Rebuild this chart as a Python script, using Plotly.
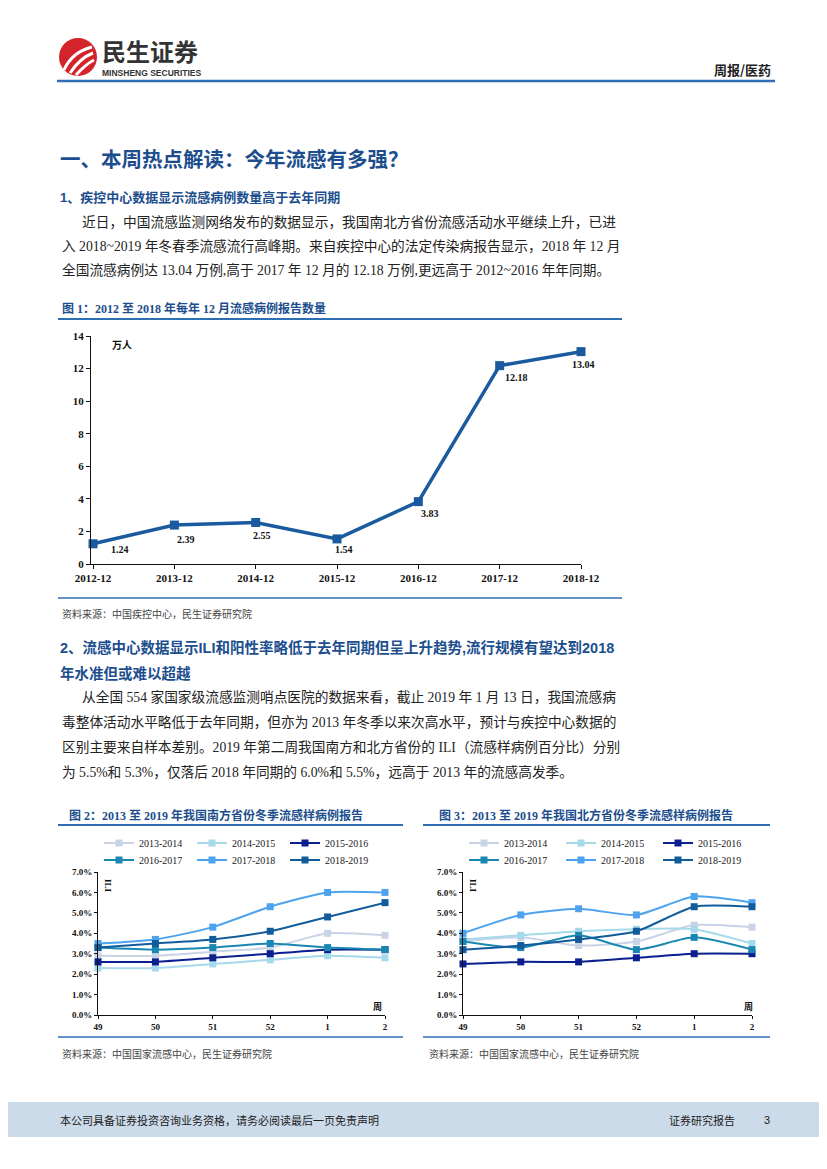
import plotly.graph_objects as go

W, H = 827, 1169
OFF = 8  # browser default body margin offsets the figure by 8px
def px(x): return (x - OFF) / W
def py(y): return 1 - (y - OFF) / H

# ---------------- data ----------------
months = ['2012-12', '2013-12', '2014-12', '2015-12', '2016-12', '2017-12', '2018-12']
cases = [1.24, 2.39, 2.55, 1.54, 3.83, 12.18, 13.04]

weeks = ['49', '50', '51', '52', '1', '2']
seasons = ['2013-2014', '2014-2015', '2015-2016', '2016-2017', '2017-2018', '2018-2019']

south_2013_2014 = [2.9, 2.9, 3.1, 3.3, 4.0, 3.9]
south_2014_2015 = [2.3, 2.3, 2.5, 2.7, 2.9, 2.8]
south_2015_2016 = [2.6, 2.6, 2.8, 3.0, 3.2, 3.2]
south_2016_2017 = [3.3, 3.2, 3.3, 3.5, 3.3, 3.2]
south_2017_2018 = [3.5, 3.7, 4.3, 5.3, 6.0, 6.0]
south_2018_2019 = [3.3, 3.5, 3.7, 4.1, 4.8, 5.5]

north_2013_2014 = [3.6, 3.8, 3.4, 3.6, 4.4, 4.3]
north_2014_2015 = [3.7, 3.9, 4.1, 4.2, 4.2, 3.5]
north_2015_2016 = [2.5, 2.6, 2.6, 2.8, 3.0, 3.0]
north_2016_2017 = [3.6, 3.3, 3.9, 3.2, 3.8, 3.2]
north_2017_2018 = [4.0, 4.9, 5.2, 4.9, 5.8, 5.5]
north_2018_2019 = [3.2, 3.4, 3.7, 4.1, 5.3, 5.3]

south = [south_2013_2014, south_2014_2015, south_2015_2016,
         south_2016_2017, south_2017_2018, south_2018_2019]
north = [north_2013_2014, north_2014_2015, north_2015_2016,
         north_2016_2017, north_2017_2018, north_2018_2019]

y_ticks_pct = [0, 1, 2, 3, 4, 5, 6, 7]

# ---------------- styles ----------------
season_colors = ['#C9D3E6', '#A6DAEA', '#0B1F8F', '#1A87B3', '#4DA3EE', '#135C9C']
BLUE_TXT = '#1C4E8E'
RULE = '#2E6EB3'
SERIF = 'Liberation Serif, Noto Sans CJK SC'
SANS_CJK = 'Noto Sans CJK SC'
MIX_SANS = 'Liberation Sans, Noto Sans CJK SC'

fig = go.Figure()

# ---- Figure 1 line ----
fig.add_trace(go.Scatter(
    x=months, y=cases, mode='lines+markers', xaxis='x', yaxis='y',
    line=dict(color='#1A5A9E', width=3.5),
    marker=dict(symbol='square', size=9, color='#1A5A9E'),
    showlegend=False, cliponaxis=False, hoverinfo='x+y'))

label_offsets = [(27, 6), (12, 14), (6, 13), (7, 11), (12, 12), (17, 12), (2, 13)]
annotations = []
for m, v, (dx, dy) in zip(months, cases, label_offsets):
    annotations.append(dict(x=m, y=v, xref='x', yref='y', text=f'{v:.2f}',
                            showarrow=False, xshift=dx, yshift=-dy,
                            font=dict(family=SERIF, size=10, color='#111', weight='bold')))

# ---- Figures 2 and 3 ----
legend_names = ['legend', 'legend2', 'legend3', 'legend4']
for ci, (data, xa, ya) in enumerate([(south, 'x2', 'y2'), (north, 'x3', 'y3')]):
    for si, (name, vals) in enumerate(zip(seasons, data)):
        lg = legend_names[ci * 2 + (0 if si < 3 else 1)]
        fig.add_trace(go.Scatter(
            x=weeks, y=vals, name=name, mode='lines+markers', xaxis=xa, yaxis=ya,
            line=dict(color=season_colors[si], width=2, shape='spline', smoothing=0.6),
            marker=dict(symbol='square', size=7, color=season_colors[si]),
            legend=lg, cliponaxis=False))

axis_font = dict(family=SERIF, size=11, color='#111', weight='bold')
small_font = dict(family=SERIF, size=9, color='#111', weight='bold')

layout = dict(
    width=W, height=H, margin=dict(l=0, r=0, t=0, b=0, pad=0, autoexpand=False),
    paper_bgcolor='white', plot_bgcolor='white',
    xaxis=dict(domain=[px(91), px(581)], type='category', range=[-0.025, 6],
               anchor='y', showline=True, linecolor='#111', linewidth=1,
               ticks='outside', ticklen=4, tickcolor='#111', showgrid=False,
               tickfont=axis_font, zeroline=False, automargin=False),
    yaxis=dict(domain=[py(564), py(336)], range=[0, 14], dtick=2, anchor='x',
               showline=True, linecolor='#111', linewidth=1, ticks='outside',
               ticklen=4, tickcolor='#111', showgrid=False, tickfont=axis_font,
               zeroline=False, automargin=False),
)
for xa, ya, x0, x1 in [('xaxis2', 'yaxis2', 98, 385), ('xaxis3', 'yaxis3', 463, 752)]:
    layout[xa] = dict(domain=[px(x0), px(x1)], type='category', range=[0, 5],
                      anchor=ya.replace('axis', ''), showline=True, linecolor='#111',
                      linewidth=1, ticks='outside', ticklen=3, tickcolor='#111',
                      showgrid=False, tickfont=small_font, zeroline=False,
                      automargin=False)
    layout[ya] = dict(domain=[py(1015), py(872)], range=[0, 7], tickvals=y_ticks_pct,
                      ticktext=[f'{t:.1f}%' for t in y_ticks_pct],
                      anchor=xa.replace('axis', ''), showline=True, linecolor='#111',
                      linewidth=1, ticks='outside', ticklen=3, tickcolor='#111',
                      showgrid=False, tickfont=small_font, zeroline=False,
                      automargin=False)

leg_font = dict(family=SERIF, size=10, color='#222')
for name, x0, yrow, ew in [('legend', 99, 843, 48), ('legend2', 99, 860, 48),
                           ('legend3', 464, 843, 52), ('legend4', 464, 860, 52)]:
    layout[name] = dict(orientation='h', x=px(x0), y=py(yrow), xanchor='left',
                        yanchor='middle', font=leg_font, bgcolor='rgba(0,0,0,0)',
                        entrywidth=ew, entrywidthmode='pixels', itemwidth=30,
                        tracegroupgap=0, borderwidth=0)

# ---------------- page text ----------------
def txt(x, y, s, size, color='#111', family=SANS_CJK, weight='normal',
        xanchor='left', angle=0):
    annotations.append(dict(x=px(x), y=py(y), xref='paper', yref='paper', text=s,
                            showarrow=False, xanchor=xanchor, yanchor='middle',
                            textangle=angle,
                            font=dict(family=family, size=size, color=color,
                                      weight=weight)))

# header
txt(100, 50.5, '民生证券', 24, '#333333', SANS_CJK, 'bold')
txt(100, 73, 'MINSHENG SECURITIES', 8.5, '#333333', 'Liberation Sans', 'bold')
txt(773, 69, '周报/医药', 13, '#222', SANS_CJK, 'bold', xanchor='right')

# section 1
txt(58, 158, '一、本周热点解读：今年流感有多强？', 20.5, BLUE_TXT, SANS_CJK, 'bold')
txt(58, 197, '1、疾控中心数据显示流感病例数量高于去年同期', 13, BLUE_TXT, MIX_SANS, 'bold')
para1 = ['近日，中国流感监测网络发布的数据显示，我国南北方省份流感活动水平继续上升，已进',
         '入 2018~2019 年冬春季流感流行高峰期。来自疾控中心的法定传染病报告显示，2018 年 12 月',
         '全国流感病例达 13.04 万例,高于 2017 年 12 月的 12.18 万例,更远高于 2012~2016 年年同期。']
for i, (line, y) in enumerate(zip(para1, [222, 246, 270])):
    txt(80 if i == 0 else 60, y, line, 13.7, '#222', SERIF)

txt(60, 308, '图 1：2012 至 2018 年每年 12 月流感病例报告数量', 12, BLUE_TXT, SERIF, 'bold')
txt(110, 344, '万人', 10, '#111', SANS_CJK, 'bold')
txt(60, 613, '资料来源：中国疾控中心，民生证券研究院', 10, '#444', SANS_CJK)

# section 2
txt(58, 647, '2、流感中心数据显示ILI和阳性率略低于去年同期但呈上升趋势,流行规模有望达到2018',
    14.5, BLUE_TXT, MIX_SANS, 'bold')
txt(58, 673, '年水准但或难以超越', 14.5, BLUE_TXT, MIX_SANS, 'bold')
para2 = ['从全国 554 家国家级流感监测哨点医院的数据来看，截止 2019 年 1 月 13 日，我国流感病',
         '毒整体活动水平略低于去年同期，但亦为 2013 年冬季以来次高水平，预计与疾控中心数据的',
         '区别主要来自样本差别。2019 年第二周我国南方和北方省份的 ILI（流感样病例百分比）分别',
         '为 5.5%和 5.3%，仅落后 2018 年同期的 6.0%和 5.5%，远高于 2013 年的流感高发季。']
for i, (line, y) in enumerate(zip(para2, [697, 722, 747, 772])):
    txt(80 if i == 0 else 60, y, line, 13.7, '#222', SERIF)

txt(67, 815, '图 2：2013 至 2019 年我国南方省份冬季流感样病例报告', 12, BLUE_TXT, SERIF, 'bold')
txt(437, 815, '图 3：2013 至 2019 年我国北方省份冬季流感样病例报告', 12, BLUE_TXT, SERIF, 'bold')
txt(108, 886, 'ILI', 9, '#111', SERIF, 'bold', xanchor='center', angle=90)
txt(473, 886, 'ILI', 9, '#111', SERIF, 'bold', xanchor='center', angle=90)
txt(377, 1006, '周', 9, '#111', SANS_CJK, 'bold', xanchor='center')
txt(748, 1006, '周', 9, '#111', SANS_CJK, 'bold', xanchor='center')
txt(60, 1053, '资料来源：中国国家流感中心，民生证券研究院', 10, '#444', SANS_CJK)
txt(427, 1053, '资料来源：中国国家流感中心，民生证券研究院', 10, '#444', SANS_CJK)

# footer
txt(58, 1120, '本公司具备证券投资咨询业务资格，请务必阅读最后一页免责声明', 11, '#222', SANS_CJK)
txt(667, 1120, '证券研究报告', 11, '#222', SANS_CJK)
txt(767, 1120, '3', 11, '#222', 'Liberation Sans', xanchor='center')

# ---------------- shapes ----------------
shapes = []
def hline(x0, x1, y, color=RULE, width=2):
    shapes.append(dict(type='line', xref='paper', yref='paper', x0=px(x0), x1=px(x1),
                       y0=py(y), y1=py(y), line=dict(color=color, width=width)))

hline(57, 775, 81, '#2F6DB5', 2.5)
hline(58, 622, 319)
hline(58, 622, 598, RULE, 1.5)
hline(58, 403, 825)
hline(423, 770, 825)
hline(58, 403, 1037, RULE, 1.5)
hline(423, 770, 1037, RULE, 1.5)

# footer band
shapes.append(dict(type='rect', xref='paper', yref='paper', x0=px(0), x1=px(W + OFF),
                   y0=py(1137), y1=py(1102), fillcolor='#CCDBEA', line=dict(width=0),
                   layer='below'))

# logo: red circle with white swooshes
cx, cy, r = 78, 57, 19
shapes.append(dict(type='circle', xref='paper', yref='paper', x0=px(cx - r), x1=px(cx + r),
                   y0=py(cy + r), y1=py(cy - r), fillcolor='#D3232B', line=dict(width=0)))
for (ax, ay, bx, by, qx, qy) in [(64, 70, 92, 47, 72, 52), (70, 73, 93, 53, 80, 58),
                                  (76, 75, 94, 60, 86, 64)]:
    path = f'M {px(ax)},{py(ay)} Q {px(qx)},{py(qy)} {px(bx)},{py(by)}'
    shapes.append(dict(type='path', xref='paper', yref='paper', path=path,
                       line=dict(color='white', width=3)))

layout['shapes'] = shapes
layout['annotations'] = annotations
fig.update_layout(**layout)

fig.write_html('out.html')
